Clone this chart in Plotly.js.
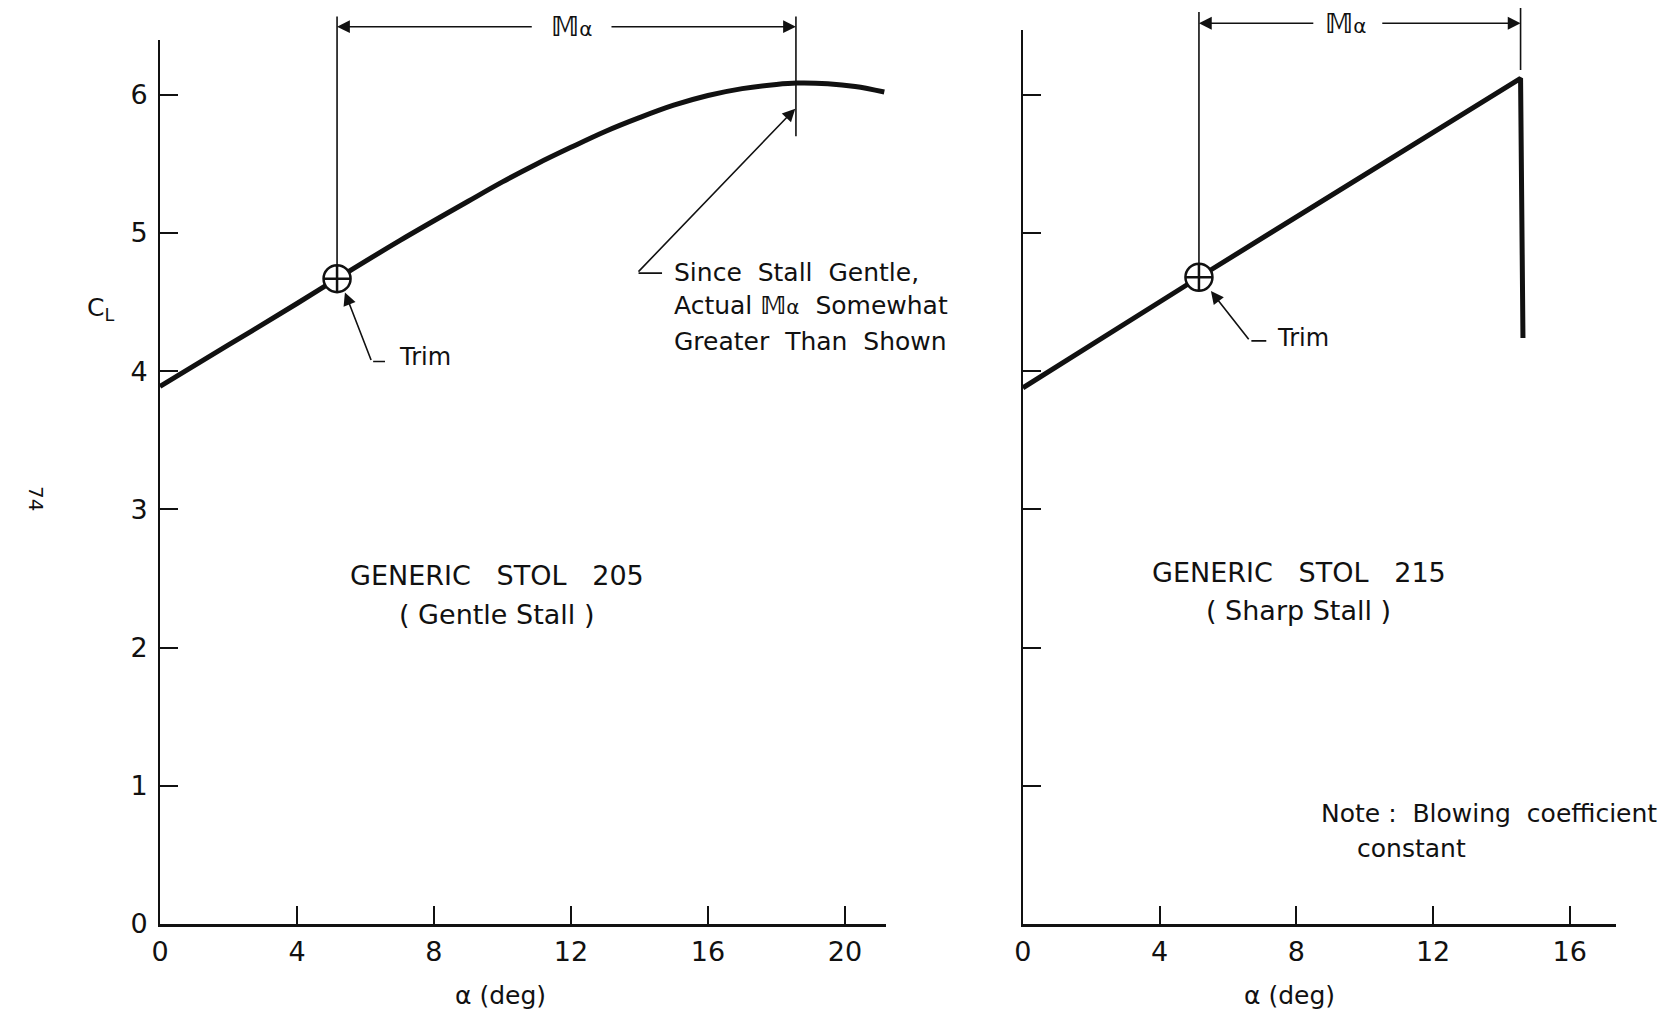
<!DOCTYPE html>
<html>
<head>
<meta charset="utf-8">
<script src="https://cdn.plot.ly/plotly-3.0.1.min.js"></script>
<style>html,body{margin:0;padding:0;background:#fff;}#chart{width:1669px;height:1011px;}</style>
</head>
<body>
<div id="chart"></div>
<script>
// ---- data ----
const gentleAlpha = [0, 2, 4, 5.17, 7, 9, 10, 11, 12, 13, 14, 15, 16, 17, 18, 18.6, 19.5, 20.3, 21.15];
const gentleCL    = [3.89, 4.19, 4.49, 4.67, 4.945, 5.23, 5.37, 5.50, 5.62, 5.735, 5.835, 5.925, 5.995, 6.045, 6.075, 6.085, 6.08, 6.06, 6.02];
const sharpAlpha  = [0, 5.15, 14.56, 14.63];
const sharpCL     = [3.88, 4.68, 6.12, 4.24];
const trimGentle  = {alpha: 5.17, cl: 4.67};
const trimSharp   = {alpha: 5.15, cl: 4.68};
const gentleMaEnd = 18.57;   // alpha at end of M_alpha span (gentle)
const sharpMaEnd  = 14.56;   // alpha at end of M_alpha span (sharp)
const xTicksLeft  = [0, 4, 8, 12, 16, 20];
const xTicksRight = [0, 4, 8, 12, 16];
const yTicks      = [0, 1, 2, 3, 4, 5, 6];
const yTickText   = ['0', '1', '2', '3', '4', '5', '6'];

const FONT = 'DejaVu Sans, Liberation Sans, sans-serif';
const BLACK = '#111';

const traces = [
  {x: gentleAlpha, y: gentleCL, xaxis: 'x', yaxis: 'y', mode: 'lines',
   line: {color: BLACK, width: 5, shape: 'spline', smoothing: 1}, hoverinfo: 'skip'},
  {x: sharpAlpha, y: sharpCL, xaxis: 'x2', yaxis: 'y2', mode: 'lines',
   line: {color: BLACK, width: 5}, hoverinfo: 'skip'},
  {x: [trimGentle.alpha], y: [trimGentle.cl], xaxis: 'x', yaxis: 'y', mode: 'markers',
   marker: {symbol: 'circle-cross', size: 27, color: '#fff', line: {color: BLACK, width: 2.5}}, cliponaxis: false},
  {x: [trimSharp.alpha], y: [trimSharp.cl], xaxis: 'x2', yaxis: 'y2', mode: 'markers',
   marker: {symbol: 'circle-cross', size: 27, color: '#fff', line: {color: BLACK, width: 2.5}}, cliponaxis: false}
];

const axisCommon = {
  showline: true, linecolor: BLACK, showgrid: false, zeroline: false,
  ticks: 'inside', ticklen: 18, tickwidth: 2, tickcolor: BLACK,
  tickfont: {family: FONT, size: 27, color: BLACK}, fixedrange: true
};

function seg(xref, yref, x, y, ax, ay, head) {
  return {xref: xref, yref: yref, axref: xref, ayref: yref, x: x, y: y, ax: ax, ay: ay,
          text: '', showarrow: true, arrowhead: head ? 2 : 0, arrowsize: 1.6, arrowwidth: 1.6,
          arrowcolor: BLACK, standoff: 0, startstandoff: 0};
}
function hseg(xref, yPaper, x, ax, head) {
  return {xref: xref, yref: 'paper', axref: xref, ayref: 'pixel', x: x, y: yPaper, ax: ax, ay: 0,
          text: '', showarrow: true, arrowhead: head ? 2 : 0, arrowsize: 1.6, arrowwidth: 1.6,
          arrowcolor: BLACK, standoff: 0, startstandoff: 0};
}
function label(xref, yref, x, y, text, size, xanchor) {
  return {xref: xref, yref: yref, x: x, y: y, text: text, showarrow: false,
          xanchor: xanchor || 'center', yanchor: 'middle',
          font: {family: FONT, size: size || 24, color: BLACK}};
}
const MA = '<b>𝕄</b><span style="font-size:20px">α</span>';

const annotations = [
  // M_alpha span, gentle stall
  seg('x', 'y', trimGentle.alpha, 4.77, trimGentle.alpha, 6.577, false),
  seg('x', 'y', gentleMaEnd, 5.70, gentleMaEnd, 6.577, false),
  hseg('x', 0.9736, trimGentle.alpha, 10.9, true),
  hseg('x', 0.9736, gentleMaEnd, 13.14, true),
  label('x', 'paper', 12.03, 0.9736, MA, 27),
  // M_alpha span, sharp stall
  seg('x2', 'y2', trimSharp.alpha, 4.78, trimSharp.alpha, 6.61, false),
  seg('x2', 'y2', sharpMaEnd, 6.18, sharpMaEnd, 6.64, false),
  hseg('x2', 0.977, trimSharp.alpha, 8.54, true),
  hseg('x2', 0.977, sharpMaEnd, 10.47, true),
  label('x2', 'paper', 9.43, 0.977, MA, 27),
  // Trim leaders
  seg('x', 'y', 5.40, 4.57, 6.18, 4.07, true),
  seg('x', 'y', 6.57, 4.07, 6.18, 4.07, false),
  label('x', 'y', 6.91, 4.10, 'Trim', 24, 'left'),
  seg('x2', 'y2', 5.50, 4.58, 6.64, 4.22, true),
  seg('x2', 'y2', 7.12, 4.22, 6.64, 4.22, false),
  label('x2', 'y2', 7.38, 4.24, 'Trim', 24, 'left'),
  // Gentle stall note
  seg('x', 'y', 18.55, 5.90, 13.93, 4.71, true),
  seg('x', 'y', 14.66, 4.71, 13.93, 4.71, false),
  label('x', 'y', 14.95, 4.714, 'Since  Stall  Gentle,', 25, 'left'),
  label('x', 'y', 14.95, 4.475, 'Actual ' + MA + '  Somewhat', 25, 'left'),
  label('x', 'y', 14.95, 4.213, 'Greater  Than  Shown', 25, 'left'),
  // panel captions
  label('x', 'y', 9.84, 2.52, 'GENERIC   STOL   205', 27),
  label('x', 'y', 9.84, 2.24, '( Gentle Stall )', 27),
  label('x2', 'y2', 8.07, 2.54, 'GENERIC   STOL   215', 27),
  label('x2', 'y2', 8.07, 2.27, '( Sharp Stall )', 27),
  label('x2', 'y2', 13.65, 0.796, 'Note :  Blowing  coefficient', 25),
  label('x2', 'y2', 11.37, 0.543, 'constant', 25),
  // axis titles
  label('x', 'paper', 9.95, 0.0158, 'α (deg)', 25),
  label('x2', 'paper', 7.8, 0.0158, 'α (deg)', 25),
  // C_L label
  label('paper', 'y', 0.0605, 4.45, 'C<sub>L</sub>', 25),
  // page number
  {xref: 'paper', yref: 'paper', x: 0.0128, y: 0.507, text: '74', showarrow: false, textangle: 90,
   font: {family: FONT, size: 20, color: BLACK}}
];

const layout = {
  width: 1669, height: 1011,
  margin: {l: 0, r: 0, t: 0, b: 0},
  paper_bgcolor: '#fff', plot_bgcolor: '#fff',
  showlegend: false,
  xaxis: Object.assign({}, axisCommon, {
    domain: [0.09587, 0.53086], range: [0, 21.2], anchor: 'y', linewidth: 2.5,
    tickvals: xTicksLeft, ticktext: xTicksLeft.map(String), ticklabelstandoff: 2
  }),
  yaxis: Object.assign({}, axisCommon, {
    domain: [0.08605, 0.9604], range: [0, 6.3965], anchor: 'x', linewidth: 2,
    tickvals: yTicks, ticktext: yTickText, ticklabelstandoff: 5
  }),
  xaxis2: Object.assign({}, axisCommon, {
    domain: [0.6129, 0.9682], range: [0, 17.35], anchor: 'y2', linewidth: 2.5,
    tickvals: xTicksRight, ticktext: xTicksRight.map(String), ticklabelstandoff: 2
  }),
  yaxis2: Object.assign({}, axisCommon, {
    domain: [0.08605, 0.9703], range: [0, 6.469], anchor: 'x2', linewidth: 2,
    tickvals: yTicks, showticklabels: false
  }),
  annotations: annotations
};

Plotly.newPlot('chart', traces, layout, {staticPlot: true, displayModeBar: false});
</script>
</body>
</html>
